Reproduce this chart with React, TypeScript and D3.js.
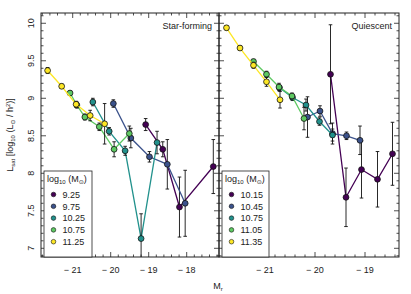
import React from "react";
import * as d3 from "d3";

// colours for the five mass bins (viridis-ish)
const colors = ["#440154", "#3b528b", "#21918c", "#5ec962", "#fde725"];

// star-forming panel
const sfLabels = ["9.25", "9.75", "10.25", "10.75", "11.25"];
const sfX = [
  [-19.08, -18.63, -18.19, -17.3],
  [-19.93, -19.47, -18.98, -18.51, -18.04],
  [-20.47, -20.04, -19.62, -19.2, -18.78],
  [-21.07, -20.89, -20.68, -20.3, -19.91, -19.51],
  [-21.66, -21.29, -20.91, -20.54, -20.16],
];
const sfY = [
  [8.65, 8.32, 7.55, 8.09],
  [8.93, 8.47, 8.22, 8.12, 7.6],
  [8.95, 8.56, 8.3, 7.13, 8.41],
  [9.07, 8.91, 8.75, 8.62, 8.32, 8.53],
  [9.37, 9.16, 8.92, 8.77, 8.66],
];
const sfErr = [
  [0.08, 0.1, 0.4, 0.36],
  [0.05, 0.13, 0.07, 0.33, 0.44],
  [0.05, 0.05, 0.06, 0.33, 0.15],
  [0.03, 0.04, 0.04, 0.05, 0.1, 0.1],
  [0.04, 0.03, 0.04, 0.07, 0.27],
];

// quiescent panel
const qLabels = ["10.15", "10.45", "10.75", "11.05", "11.35"];
const qX = [
  [-19.69, -19.38, -19.07, -18.75, -18.45],
  [-20.15, -19.9, -19.65, -19.37, -19.1],
  [-20.71, -20.45, -20.18, -19.91, -19.65],
  [-21.23, -20.97, -20.72, -20.46, -20.22],
  [-21.77, -21.5, -21.23, -20.97, -20.7],
];
const qY = [
  [9.32, 7.68, 8.05, 7.92, 8.26],
  [8.75, 8.83, 8.53, 8.5, 8.44],
  [9.14, 9.01, 8.91, 8.69, 8.51],
  [9.49, 9.32, 9.15, 9.03, 8.73],
  [9.94, 9.67, 9.44, 9.22, 8.98],
];
const qErr = [
  [0.66, 0.39, 0.38, 0.37, 0.42],
  [0.27, 0.07, 0.14, 0.05, 0.19],
  [0.03, 0.04, 0.08, 0.05, 0.08],
  [0.03, 0.04, 0.05, 0.04, 0.15],
  [0.03, 0.03, 0.04, 0.06, 0.11],
];

const yTicks = [7, 7.5, 8, 8.5, 9, 9.5, 10];
const sfXTicks = [-21, -20, -19, -18];
const qXTicks = [-21, -20, -19];

const top = 13, bottom = 257;
const font = "Liberation Sans, Arial, sans-serif";
const sunFont = "DejaVu Sans";

const y = d3.scaleLinear().domain([6.884, 10.137]).range([bottom, top]);

function minus(v: number) {
  return v < 0 ? "\u2212 " + Math.abs(v) : String(v);
}

function Panel(props: any) {
  const { x, xs, ys, errs, labels, xTicks, title, id } = props;
  const [x0, x1] = x.range();
  const line = d3.line<number[]>().x((d) => x(d[0])).y((d) => y(d[1]));
  const minorX = d3.range(Math.ceil(x.domain()[0] * 5), Math.floor(x.domain()[1] * 5) + 1).map((k) => k / 5);
  const minorY = d3.range(69, 102).map((k) => k / 10);
  const legX = x0 + 3;
  const legW = id === "sf" ? 48 : 47;
  return (
    <g fontFamily={font}>
      <defs>
        <clipPath id={"clip-" + id}>
          <rect x={x0} y={top} width={x1 - x0} height={bottom - top} />
        </clipPath>
      </defs>
      <g clipPath={`url(#clip-${id})`}>
        {xs.map((xv: number[], i: number) => {
          const pts = xv.map((v, j) => [v, ys[i][j]]);
          return (
            <g key={i}>
              <path d={line(pts) || ""} fill="none" stroke={colors[i]} strokeWidth={1.3} />
              {pts.map((p, j) => {
                const e = errs[i][j];
                const px = x(p[0]);
                return (
                  <g key={j} stroke="#111" strokeWidth={0.9}>
                    <line x1={px} x2={px} y1={y(p[1] + e)} y2={y(p[1] - e)} />
                    <line x1={px - 1.8} x2={px + 1.8} y1={y(p[1] + e)} y2={y(p[1] + e)} />
                    <line x1={px - 1.8} x2={px + 1.8} y1={y(p[1] - e)} y2={y(p[1] - e)} />
                  </g>
                );
              })}
              {pts.map((p, j) => (
                <circle key={"c" + j} cx={x(p[0])} cy={y(p[1])} r={2.9} fill={colors[i]} stroke="#111" strokeWidth={0.8} />
              ))}
            </g>
          );
        })}
      </g>
      {/* frame + ticks */}
      <rect x={x0} y={top} width={x1 - x0} height={bottom - top} fill="none" stroke="#222" strokeWidth={1} />
      <g stroke="#222" strokeWidth={0.8}>
        {minorX.map((v) => {
          const major = xTicks.indexOf(v) >= 0;
          const l = major ? 5 : 2.5;
          return (
            <g key={v}>
              <line x1={x(v)} x2={x(v)} y1={bottom} y2={bottom - l} />
              <line x1={x(v)} x2={x(v)} y1={top} y2={top + l} />
            </g>
          );
        })}
        {minorY.map((v) => {
          const major = Math.abs(v * 2 - Math.round(v * 2)) < 1e-6;
          const l = major ? 5 : 2.5;
          return (
            <g key={v}>
              <line x1={x0} x2={x0 + l} y1={y(v)} y2={y(v)} />
              <line x1={x1} x2={x1 - l} y1={y(v)} y2={y(v)} />
            </g>
          );
        })}
      </g>
      {xTicks.map((v: number) => (
        <text key={v} x={x(v)} y={bottom + 16} fontSize={9} textAnchor="middle" fill="#222">
          {minus(v)}
        </text>
      ))}
      <text x={x1 - 7} y={29} fontSize={9} textAnchor="end" fill="#222">{title}</text>
      {/* legend */}
      <rect x={legX} y={171} width={legW} height={bottom - 171} fill="white" stroke="#222" strokeWidth={0.8} />
      <text x={legX + 3} y={182} fontSize={9} fill="#222">
        log<tspan fontSize={6} dy={2}>10</tspan>
        <tspan dy={-2}> (M</tspan>
        <tspan fontSize={6} dy={2} fontFamily={sunFont}>⊙</tspan>
        <tspan dy={-2}>)</tspan>
      </text>
      {labels.map((lab: string, i: number) => (
        <g key={lab}>
          <circle cx={legX + 9.5} cy={194.5 + i * 11.8} r={2.3} fill={colors[i]} stroke="#111" strokeWidth={0.6} />
          <text x={legX + 18.5} y={197.8 + i * 11.8} fontSize={9} fill="#222">{lab}</text>
        </g>
      ))}
    </g>
  );
}

export default function App() {
  const xsf = d3.scaleLinear().domain([-21.834, -17.15]).range([41, 219]);
  const xq = d3.scaleLinear().domain([-21.92, -18.32]).range([219, 399]);
  return (
    <svg width={411} height={294} style={{ position: "absolute", left: 0, top: 0 }}>
      <rect width={411} height={294} fill="white" />
      <Panel id="sf" x={xsf} xs={sfX} ys={sfY} errs={sfErr} labels={sfLabels} xTicks={sfXTicks} title="Star-forming" />
      <Panel id="q" x={xq} xs={qX} ys={qY} errs={qErr} labels={qLabels} xTicks={qXTicks} title="Quiescent" />
      {yTicks.map((v) => (
        <text key={v} transform={`translate(34,${y(v)}) rotate(-90)`} fontSize={9} textAnchor="middle" fill="#222" fontFamily={font}>
          {v}
        </text>
      ))}
      <text transform={`translate(13,135) rotate(-90)`} fontSize={9} textAnchor="middle" fill="#222" fontFamily={font}>
        L<tspan fontSize={6} dy={2}>sat</tspan>
        <tspan dy={-2}> [log</tspan>
        <tspan fontSize={6} dy={2}>10</tspan>
        <tspan dy={-2}> (L</tspan>
        <tspan fontSize={6} dy={2} fontFamily={sunFont}>⊙</tspan>
        <tspan dy={-2}> / h</tspan>
        <tspan fontSize={6} dy={-3}>2</tspan>
        <tspan dy={3}>)]</tspan>
      </text>
      <text x={218} y={289} fontSize={9} textAnchor="middle" fill="#222" fontFamily={font}>
        M<tspan fontSize={6} dy={2}>r</tspan>
      </text>
    </svg>
  );
}
